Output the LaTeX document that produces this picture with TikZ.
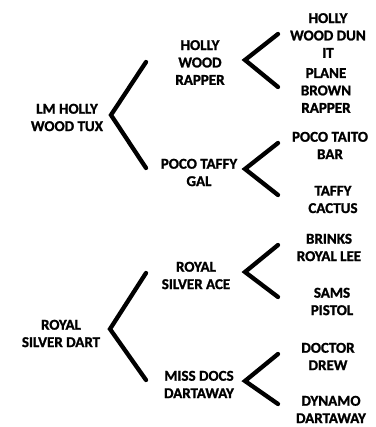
\documentclass[tikz,border=0pt]{standalone}
\usepackage{fontspec}
\setmainfont{Carlito}[BoldFont={Carlito Bold},BoldFeatures={FakeBold=1.3}]
\begin{document}
\begin{tikzpicture}[x=1pt,y=-1pt,
  lbl/.style={align=center,inner sep=0pt,yshift=-1.5pt,font=\bfseries\fontsize{15}{17.4}\selectfont},
  brk/.style={line width=4.3pt,line cap=round,line join=miter}]
\useasboundingbox (0,0) rectangle (375,427);
% top family
\node[lbl] (lm) at (67,116) {LM HOLLY\\WOOD TUX};
\node[lbl] (hwr) at (200,61) {HOLLY\\WOOD\\RAPPER};
\node[lbl] (ptg) at (199,171) {POCO TAFFY\\GAL};
\node[lbl] (hwd) at (328,34) {HOLLY\\WOOD DUN\\IT};
\node[lbl] (pbr) at (326,89) {PLANE\\BROWN\\RAPPER};
\node[lbl] (ptb) at (330,144) {POCO TAITO\\BAR};
\node[lbl] (tc) at (333,198) {TAFFY\\CACTUS};
% bottom family
\node[lbl] (rsd) at (61,332) {ROYAL\\SILVER DART};
\node[lbl] (rsa) at (196,274) {ROYAL\\SILVER ACE};
\node[lbl] (mdd) at (199,383) {MISS DOCS\\DARTAWAY};
\node[lbl] (brl) at (329,246) {BRINKS\\ROYAL LEE};
\node[lbl] (sp) at (332,300) {SAMS\\PISTOL};
\node[lbl] (dd) at (328,355) {DOCTOR\\DREW};
\node[lbl] (dda) at (331,408) {DYNAMO\\DARTAWAY};
% bracket points
\coordinate (b1) at (111,115); \coordinate (b1t) at (146,62); \coordinate (b1b) at (146,168);
\coordinate (b2) at (245,60);  \coordinate (b2t) at (278,34); \coordinate (b2b) at (278,87);
\coordinate (b3) at (245,169); \coordinate (b3t) at (278,143); \coordinate (b3b) at (278,195);
\coordinate (b4) at (110,329); \coordinate (b4t) at (146,273); \coordinate (b4b) at (146,380);
\coordinate (b5) at (245,272); \coordinate (b5t) at (278,245); \coordinate (b5b) at (278,297);
\coordinate (b6) at (245,381); \coordinate (b6t) at (278,354); \coordinate (b6b) at (278,404);
\draw[brk] (b1t) -- (b1) -- (b1b);
\draw[brk] (b2t) -- (b2) -- (b2b);
\draw[brk] (b3t) -- (b3) -- (b3b);
\draw[brk] (b4t) -- (b4) -- (b4b);
\draw[brk] (b5t) -- (b5) -- (b5b);
\draw[brk] (b6t) -- (b6) -- (b6b);
\end{tikzpicture}
\end{document}
